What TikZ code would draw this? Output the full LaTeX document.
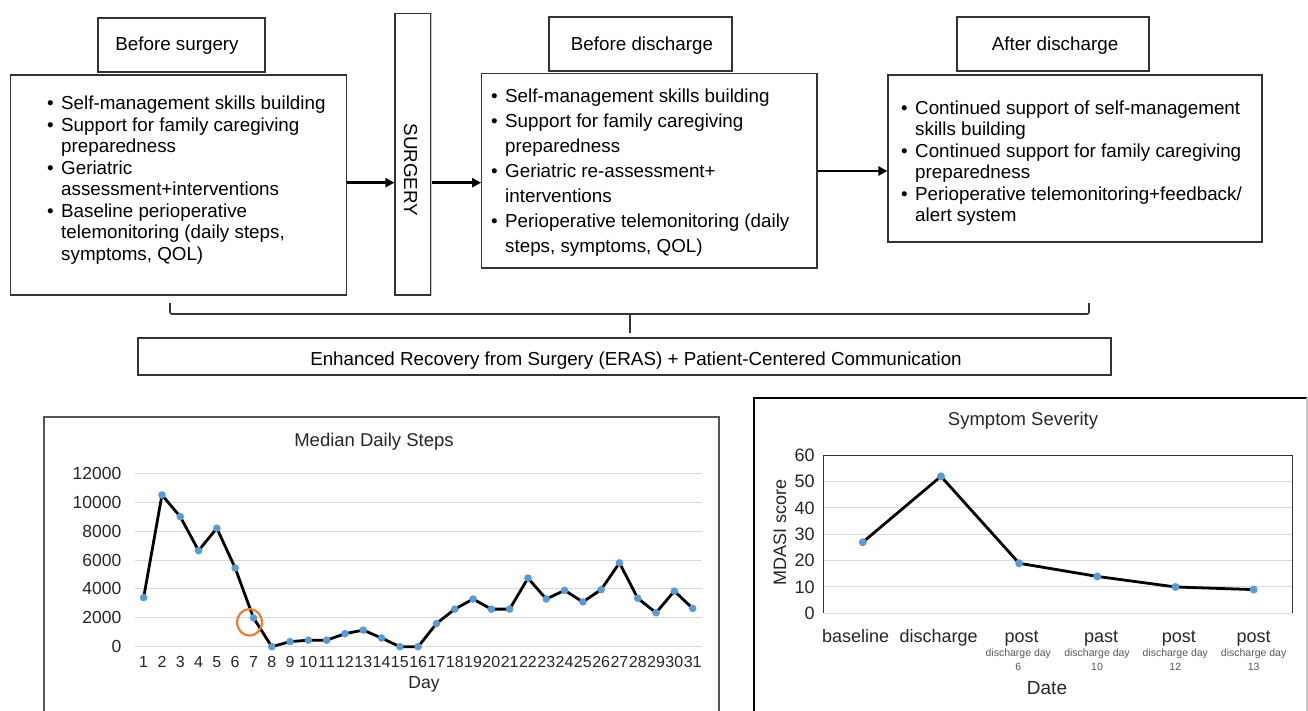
\documentclass[tikz,border=0pt]{standalone}
\usepackage{fontspec}
\setmainfont{Liberation Sans}
\usetikzlibrary{arrows.meta,calc}
\definecolor{boxgray}{HTML}{333333}
\definecolor{gridgray}{HTML}{D9D9D9}
\definecolor{mblue}{HTML}{5B9BD5}
\definecolor{morange}{HTML}{ED7D31}
\definecolor{ctext}{HTML}{262626}
\definecolor{lightedge}{HTML}{C8C8C8}
\definecolor{framegray}{HTML}{555555}
\definecolor{smallgray}{HTML}{595959}
\newcommand\bul{\llap{\textbullet\hspace{7.5pt}}}
\tikzset{
  box/.style={draw=boxgray, line width=1.2pt, inner sep=0pt},
  ln/.style={anchor=base west, inner sep=0pt, font=\fontsize{18.8}{22}\selectfont},
  lbl/.style={anchor=base, inner sep=0pt, font=\fontsize{18.8}{22}\selectfont},
  arr/.style={line width=2.6pt, -{Triangle[length=9pt,width=9pt]}},
  brace/.style={line width=1.6pt, boxgray},
  grid/.style={gridgray, line width=1pt},
  dataline/.style={black, line width=2.8pt, line join=round},
  ctitle/.style={inner sep=0pt, text=ctext, font=\fontsize{18.5}{22}\selectfont},
  ctick/.style={inner sep=0pt, text=ctext, font=\fontsize{17.5}{20}\selectfont},
}
\begin{document}
\begin{tikzpicture}[x=1pt,y=-1pt]
\useasboundingbox (0,0) rectangle (1308,711);
\fill[white] (0,0) rectangle (1308,711);

% ---------- top flow ----------
\node[box, minimum width=167pt, minimum height=54pt] (bs) at (181.5,45) {};
\node[box, minimum width=335.8pt, minimum height=220pt] (lb) at (178.4,185) {};
\node[box, minimum width=36pt, minimum height=281.5pt] (sg) at (413,154.25) {};
\draw[lightedge, line width=1.2pt] (sg.north east) -- (sg.south east);
\node[box, minimum width=183pt, minimum height=54pt] (bd) at (640.5,44) {};
\node[box, minimum width=335.3pt, minimum height=194.6pt] (mb) at (649.35,170.7) {};
\node[box, minimum width=192pt, minimum height=54pt] (ad) at (1053,44) {};
\node[box, minimum width=374pt, minimum height=167pt] (rb) at (1075,158.5) {};
\node[box, minimum width=973pt, minimum height=37pt] (eras) at (624.5,356.5) {};

\node[lbl] (tbs) at (177,50.5) {Before surgery};
\node[lbl] (tbd) at (642,50.5) {Before discharge};
\node[lbl] (tad) at (1055,50.5) {After discharge};
\node[lbl] (teras) at (636,365.2) {Enhanced Recovery from Surgery (ERAS) + Patient-Centered Communication};
\node[inner sep=0pt, rotate=-90, font=\fontsize{18.8}{22}\selectfont] (tsg) at (410.5,170) {SURGERY};

% left box text
\node[ln] (l1) at (61,110)   {\bul Self-management skills building};
\node[ln] (l2) at (61,131.5) {\bul Support for family caregiving};
\node[ln] (l3) at (61,153)   {preparedness};
\node[ln] (l4) at (61,174.5) {\bul Geriatric};
\node[ln] (l5) at (61,196)   {assessment+interventions};
\node[ln] (l6) at (61,217.5) {\bul Baseline perioperative};
\node[ln] (l7) at (61,239)   {telemonitoring (daily steps,};
\node[ln] (l8) at (61,260.5) {symptoms, QOL)};

% middle box text
\node[ln] (m1) at (505,102.5) {\bul Self-management skills building};
\node[ln] (m2) at (505,127.5) {\bul Support for family caregiving};
\node[ln] (m3) at (505,152.5) {preparedness};
\node[ln] (m4) at (505,177.5) {\bul Geriatric re-assessment+};
\node[ln] (m5) at (505,202.5) {interventions};
\node[ln] (m6) at (505,227.5) {\bul Perioperative telemonitoring (daily};
\node[ln] (m7) at (505,252.5) {steps, symptoms, QOL)};

% right box text
\node[ln] (r1) at (915,114.5) {\bul Continued support of self-management};
\node[ln] (r2) at (915,136)   {skills building};
\node[ln] (r3) at (915,157.5) {\bul Continued support for family caregiving};
\node[ln] (r4) at (915,179)   {preparedness};
\node[ln] (r5) at (915,200.5) {\bul Perioperative telemonitoring+feedback/};
\node[ln] (r6) at (915,222)   {alert system};

% arrows
\coordinate (ya) at (0,182.7);
\coordinate (yb) at (0,171);
\draw[arr] (lb.east |- ya) -- (sg.west |- ya);
\draw[arr] (sg.east |- ya) -- (mb.west |- ya);
\draw[arr] (mb.east |- yb) -- (rb.west |- yb);

% brace
\coordinate (brL) at (170,303);
\coordinate (brR) at (1089,303);
\coordinate (brM) at (630,314);
\draw[brace, rounded corners=2pt] (brL) -- (170,314) -- (1089,314) -- (brR);
\draw[brace] (brM) -- (630,333);

% ---------- left chart ----------
\draw[framegray, line width=1.6pt] (44,711) -- (44,417) -- (719,417) -- (719,711);
\node[ctitle] (t1) at (374,442) {Median Daily Steps};
\foreach \v [count=\k] in {0,2000,4000,6000,8000,10000,12000} {
  \draw[grid] (134.5,{646.7-0.01445*\v}) -- (702,{646.7-0.01445*\v});
  \node[ctick, anchor=east] (ya\k) at (121.5,{646.7-0.01445*\v}) {\v};
}
\foreach \i in {1,...,31} {
  \node[inner sep=0pt, anchor=base, text=ctext, font=\fontsize{16}{18}\selectfont] (xa\i) at ({125.35+18.3*\i},667.7) {\i};
}
\node[ctick, anchor=base] (dayl) at (424,688) {Day};
\begin{scope}[shift={(125.35,646.7)}, x=18.3pt, y=0.01445pt]
  \draw[dataline] plot coordinates {(1,3400) (2,10500) (3,9000) (4,6650) (5,8200) (6,5450) (7,2000) (8,0) (9,350) (10,450) (11,450) (12,900) (13,1150) (14,600) (15,0) (16,0) (17,1600) (18,2600) (19,3300) (20,2600) (21,2600) (22,4750) (23,3300) (24,3900) (25,3100) (26,3950) (27,5800) (28,3350) (29,2350) (30,3850) (31,2650)};
  \foreach \v [count=\i] in {3400,10500,9000,6650,8200,5450,2000,0,350,450,450,900,1150,600,0,0,1600,2600,3300,2600,2600,4750,3300,3900,3100,3950,5800,3350,2350,3850,2650}
    \fill[mblue] (\i,\v) circle (3.8pt);
\end{scope}
\draw[morange, line width=2.2pt] (249.5,622.3) ellipse [x radius=12.4, y radius=13.3];

% ---------- right chart ----------
\draw[black, line width=2pt] (754,711) -- (754,398.3) -- (1307,398.3);
\draw[lightedge, line width=1.2pt] (1307,398.3) -- (1307,711);
\node[ctitle] (t2) at (1023,421) {Symptom Severity};
\foreach \v [count=\k] in {0,10,20,30,40,50} {
  \draw[grid] (823.7,{613.3-2.6333*\v}) -- (1292.7,{613.3-2.6333*\v});
}
\draw[boxgray, line width=1.5pt] (823.7,613.3) -- (823.7,455.3) -- (1292.7,455.3) -- (1292.7,613.3);
\foreach \v [count=\k] in {0,10,20,30,40,50,60} {
  \node[ctick, anchor=east, font=\fontsize{18}{20}\selectfont] (yb\k) at (814.8,{613.3-2.6333*\v}) {\v};
}
\node[ctick, rotate=90, font=\fontsize{18}{20}\selectfont] (mdasi) at (780,532.5) {MDASI score};
\begin{scope}[shift={(784.6,613.3)}, x=78.17pt, y=2.6333pt]
  \draw[dataline] plot coordinates {(1,27) (2,52) (3,19) (4,14) (5,10) (6,9)};
  \foreach \v [count=\i] in {27,52,19,14,10,9}
    \fill[mblue] (\i,\v) circle (4pt);
\end{scope}
\foreach \t/\x [count=\k] in {baseline/855.7, discharge/938.6, post/1021.5, past/1101, post/1178.8, post/1253.6} {
  \node[ctick, anchor=base, font=\fontsize{18}{20}\selectfont] (cb\k) at (\x,642.3) {\t};
}
\foreach \n/\x [count=\k] in {6/1018.3, 10/1097, 12/1175.3, 13/1253.6} {
  \node[inner sep=0pt, anchor=base, text=smallgray, font=\fontsize{10.5}{12}\selectfont] (cs\k) at (\x,656.5) {discharge day};
  \node[inner sep=0pt, anchor=base, text=smallgray, font=\fontsize{10.5}{12}\selectfont] (cn\k) at (\x,670) {\n};
}
\node[ctick, anchor=base, font=\fontsize{19}{21}\selectfont] (datel) at (1047,694.2) {Date};
\end{tikzpicture}
\end{document}
